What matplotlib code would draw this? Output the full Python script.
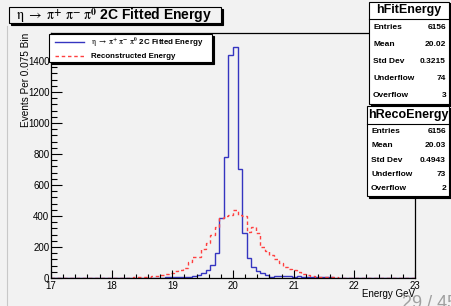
import numpy as np
import matplotlib
matplotlib.use('Agg')
import matplotlib.pyplot as plt
from matplotlib.patches import Rectangle
from matplotlib.lines import Line2D
from matplotlib.ticker import MultipleLocator

plt.rcParams['font.family'] = ['Liberation Sans', 'DejaVu Sans']
plt.rcParams['mathtext.fontset'] = 'stix'

# histogram range (80 bins of 0.075 GeV)
x_lo, x_hi, n_bins = 17.0, 23.0, 80

# counts per bin
fit_counts = [0, 0, 1, 0, 0, 1, 0, 1, 0, 1,
              1, 0, 1, 1, 2, 1, 2, 2, 3, 2,
              2, 2, 3, 3, 3, 4, 4, 5, 5, 6,
              6, 13, 19, 35, 52, 84, 163, 390, 783, 1439,
              1488, 701, 290, 127, 72, 47, 30, 19, 9, 13,
              11, 12, 10, 9, 11, 8, 7, 6, 6, 5,
              4, 4, 3, 3, 3, 2, 2, 2, 1, 2,
              1, 1, 1, 0, 1, 0, 1, 0, 0, 1]
reco_counts = [0, 0, 0, 1, 0, 1, 1, 0, 1, 1,
               1, 2, 1, 2, 2, 3, 2, 3, 4, 4,
               5, 7, 10, 14, 19, 24, 30, 43, 49, 66,
               103, 133, 138, 190, 223, 277, 331, 385, 400, 406,
               442, 406, 400, 295, 331, 290, 200, 175, 150, 120,
               100, 70, 55, 50, 38, 28, 20, 14, 9, 7,
               5, 4, 4, 3, 2, 2, 2, 1, 1, 1,
               1, 0, 1, 0, 0, 1, 0, 0, 0, 0]

fit_labels = ['Entries', 'Mean', 'Std Dev', 'Underflow', 'Overflow']
fit_values = ['6156', '20.02', '0.3215', '74', '3']
reco_labels = ['Entries', 'Mean', 'Std Dev', 'Underflow', 'Overflow']
reco_values = ['6156', '20.03', '0.4943', '73', '2']

decay = r'$\mathrm{\eta}\ \rightarrow\ \mathrm{\pi}^{\mathbf{+}}\ \mathrm{\pi}^{\mathbf{-}}\ \mathrm{\pi}^{\mathbf{0}}$'
title = decay + ' 2C Fitted Energy'
fit_name = decay + ' 2C Fitted Energy'
reco_name = 'Reconstructed Energy'

W, H = 451, 306
bg = '#f2f2f2'
blue = '#3535c0'
red = '#ff4040'

fig = plt.figure(figsize=(W / 100, H / 100), dpi=100, facecolor=bg)


def fx(x):
    return x / W


def fy(y):
    return 1 - y / H


ax = fig.add_axes([fx(51), fy(278), (415 - 51) / W, (278 - 33) / H])
ax.set_facecolor(bg)

edges = np.linspace(x_lo, x_hi, n_bins + 1)
ax.stairs(fit_counts, edges, color=blue, lw=1.0, baseline=0)
ax.stairs(reco_counts, edges, color=red, lw=1.0, linestyle=(0, (2.5, 2)), baseline=0)

ax.set_xlim(x_lo, x_hi)
ax.set_ylim(0, 1581)
ax.xaxis.set_major_locator(MultipleLocator(1))
ax.xaxis.set_minor_locator(MultipleLocator(0.2))
ax.yaxis.set_major_locator(MultipleLocator(200))
ax.yaxis.set_minor_locator(MultipleLocator(40))
ax.tick_params(axis='y', which='major', direction='in', length=7.9, width=0.8, labelsize=7, pad=1.2)
ax.tick_params(axis='y', which='minor', direction='in', length=4.3, width=0.8)
ax.tick_params(axis='x', which='major', direction='in', length=5.8, width=0.8, labelsize=7, pad=2)
ax.tick_params(axis='x', which='minor', direction='in', length=2.9, width=0.8)
for s in ax.spines.values():
    s.set_linewidth(0.9)

ax.set_ylabel('Events Per 0.075 Bin', fontsize=7.2, loc='top')
ax.yaxis.set_label_coords((31 - 51) / 364, 1.0)
ax.set_xlabel('Energy GeV', fontsize=7, loc='right')
ax.xaxis.set_label_coords(1.0, (278 - 289) / 245)
ax.xaxis.label.set_va('top')


def box(x0, y0, x1, y1, face, shadow=2):
    fig.add_artist(Rectangle((fx(x0 + shadow), fy(y1 + shadow)), (x1 - x0) / W, (y1 - y0) / H,
                             transform=fig.transFigure, facecolor='black', edgecolor='black', lw=0.8))
    fig.add_artist(Rectangle((fx(x0), fy(y1)), (x1 - x0) / W, (y1 - y0) / H,
                             transform=fig.transFigure, facecolor=face, edgecolor='black', lw=0.8))


# title box
box(9, 7, 221, 23, bg)
fig.text(fx(16), fy(15.5), title, fontsize=10, fontweight='bold', va='center', ha='left')

# legend
box(49, 34, 212, 62, 'white')
fig.add_artist(Line2D([fx(55), fx(84)], [fy(42), fy(42)], color=blue, lw=1.0, transform=fig.transFigure))
fig.add_artist(Line2D([fx(55), fx(84)], [fy(56), fy(56)], color=red, lw=1.0,
                      linestyle=(0, (2.5, 2)), transform=fig.transFigure))
fig.text(fx(91), fy(42), fit_name, fontsize=5.7, fontweight='bold', va='center', ha='left')
fig.text(fx(91), fy(56), reco_name, fontsize=5.7, fontweight='bold', va='center', ha='left')


def stat_box(name, labels, values, x0, y0, x1, y1, title_h):
    box(x0, y0, x1, y1, 'white', shadow=1.5)
    fig.add_artist(Line2D([fx(x0), fx(x1)], [fy(y0 + title_h), fy(y0 + title_h)],
                          color='black', lw=0.8, transform=fig.transFigure))
    fig.text(fx((x0 + x1) / 2), fy(y0 + title_h / 2), name, fontsize=9,
             fontweight='bold', ha='center', va='center')
    row_h = (y1 - y0 - title_h) / len(labels)
    for k, (lab, val) in enumerate(zip(labels, values)):
        yc = y0 + title_h + row_h * (k + 0.5)
        fig.text(fx(x0 + 4), fy(yc), lab, fontsize=6, fontweight='bold', ha='left', va='center')
        fig.text(fx(x1 - 3), fy(yc), val, fontsize=6, fontweight='bold', ha='right', va='center')


stat_box('hFitEnergy', fit_labels, fit_values, 369, 2, 449, 104, 17)
stat_box('hRecoEnergy', reco_labels, reco_values, 367, 106, 449, 196, 18)

# slide border and page number
fig.add_artist(Line2D([fx(7), fx(7)], [fy(26), 0], color='#c8c8c8', lw=0.8, transform=fig.transFigure))
fig.text(fx(402), fy(295), '29 / 45', fontsize=13, color='#a0a0a0', ha='left', va='top')

fig.savefig('out.png', dpi=100, facecolor=bg)
